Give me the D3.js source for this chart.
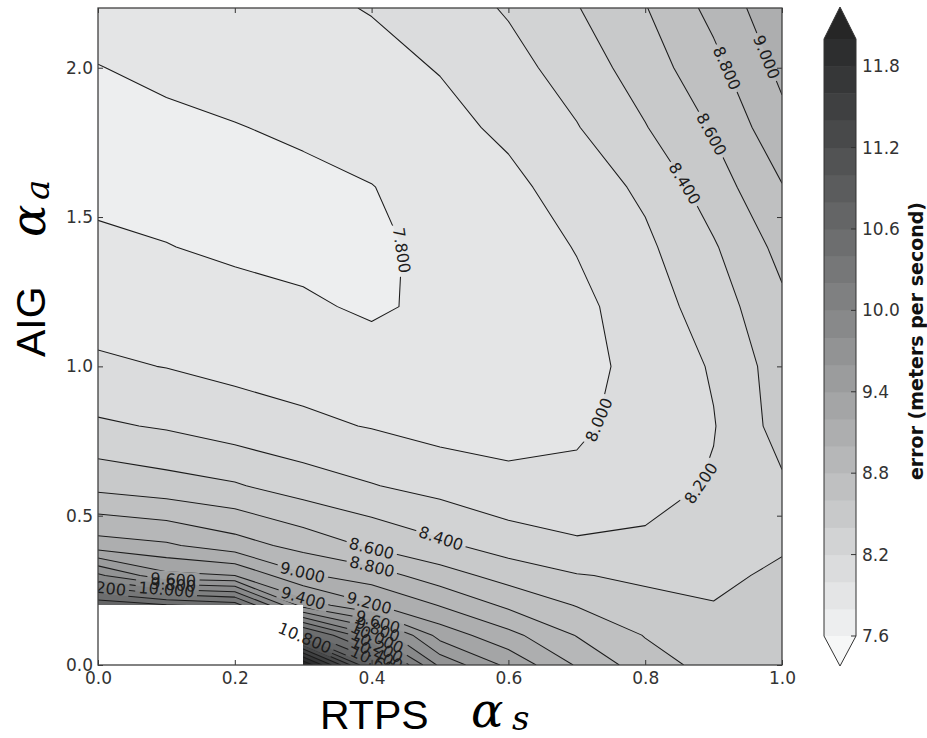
<!DOCTYPE html>
<html>
<head>
<meta charset="utf-8">
<script src="https://cdn.jsdelivr.net/npm/d3@7/dist/d3.min.js"></script>
<style>
  html,body{margin:0;padding:0;background:#fff;}
  svg{display:block;}
</style>
</head>
<body>
<svg id="chart" width="927" height="738"></svg>
<script>
// ---------------- data ----------------
const rtps = [0.0, 0.1, 0.2, 0.3, 0.4, 0.5, 0.6, 0.7, 0.8, 0.9, 1.0];
const aig  = [0.0, 0.1, 0.2, 0.3, 0.4, 0.6, 0.8, 1.0, 1.2, 1.4, 1.6, 1.8, 2.0, 2.2];
// error (m/s) for each RTPS value, listed along aig (bottom -> top); null = not available
const errRtps00 = [null, null, 10.76, 9.84, 9.09, 8.54, 8.23, 8.03, 7.92, 7.84, 7.75, 7.73, 7.795, 7.88];
const errRtps01 = [null, null, 10.62, 9.45, 9.03, 8.48, 8.18, 7.995, 7.88, 7.805, 7.74, 7.76, 7.84, 7.89];
const errRtps02 = [null, null, 10.5, 9.4, 8.89, 8.42, 8.1, 7.95, 7.86, 7.77, 7.72, 7.795, 7.85, 7.91];
const errRtps03 = [12.2, 10.7, 9.52, 9.03, 8.73, 8.3, 8.04, 7.92, 7.82, 7.76, 7.77, 7.82, 7.87, 7.96];
const errRtps04 = [10.75, 10.02, 9.22, 8.9, 8.57, 8.21, 7.99, 7.86, 7.78, 7.76, 7.795, 7.88, 7.94, 8.01];
const errRtps05 = [9.75, 9.32, 8.99, 8.69, 8.44, 8.13, 7.93, 7.86, 7.83, 7.85, 7.88, 7.94, 8.01, 8.1];
const errRtps06 = [9.35, 9.06, 8.76, 8.52, 8.31, 8.05, 7.93, 7.88, 7.87, 7.89, 7.95, 8.04, 8.13, 8.22];
const errRtps07 = [8.98, 8.79, 8.59, 8.41, 8.23, 8.045, 7.97, 7.94, 7.95, 8.01, 8.09, 8.19, 8.29, 8.39];
const errRtps08 = [8.69, 8.59, 8.45, 8.37, 8.24, 8.12, 8.07, 8.06, 8.1, 8.16, 8.24, 8.39, 8.5, 8.59];
const errRtps09 = [8.53, 8.45, 8.41, 8.34, 8.27, 8.22, 8.19, 8.22, 8.3, 8.38, 8.5, 8.62, 8.74, 8.86];
const errRtps10 = [8.58, 8.55, 8.5, 8.45, 8.37, 8.37, 8.48, 8.5, 8.56, 8.66, 8.79, 8.94, 9.05, 9.15];

const contourLevels = [7.6, 7.8, 8.0, 8.2, 8.4, 8.6, 8.8, 9.0, 9.2, 9.4, 9.6, 9.8, 10.0, 10.2, 10.4, 10.6, 10.8, 11.0, 11.2, 11.4, 11.6, 11.8, 12.0];
const xTicks = [0.0, 0.2, 0.4, 0.6, 0.8, 1.0];
const yTicks = [0.0, 0.5, 1.0, 1.5, 2.0];
const cbTicks = [7.6, 8.2, 8.8, 9.4, 10.0, 10.6, 11.2, 11.8];

// inline contour labels: level and approximate anchor (data space)
const labelLevels = [7.8, 8.0, 8.2, 8.4, 8.6, 8.8, 9.0, 8.4, 8.6, 8.8, 9.0, 9.4, 9.2, 9.6, 9.8, 10.0, 10.2, 9.6, 9.8, 10.0, 10.2, 10.4, 10.6, 10.8];
const labelRtps   = [0.43, 0.734, 0.88, 0.863, 0.899, 0.921, 0.982, 0.5, 0.4, 0.4, 0.3, 0.3, 0.395, 0.11, 0.11, 0.1, 0.0, 0.41, 0.41, 0.41, 0.41, 0.41, 0.41, 0.303];
const labelAig    = [1.39, 0.82, 0.61, 1.62, 1.78, 2.0, 2.04, 0.415, 0.39, 0.325, 0.318, 0.224, 0.195, 0.29, 0.27, 0.25, 0.257, 0.15, 0.125, 0.1, 0.073, 0.047, 0.02, 0.094];

// ---------------- setup ----------------
const svg = d3.select("#chart");
const W = 927, H = 738;
const x = d3.scaleLinear().domain([0, 1]).range([98, 782]);
const y = d3.scaleLinear().domain([0, 2.2]).range([665, 8]);
const columns = [errRtps00, errRtps01, errRtps02, errRtps03, errRtps04, errRtps05, errRtps06, errRtps07, errRtps08, errRtps09, errRtps10];
const nx = rtps.length, ny = aig.length;

const grid = new Array(nx * ny);
for (let j = 0; j < ny; j++) for (let i = 0; i < nx; i++) {
  const v = columns[i][j];
  grid[j * nx + i] = (v == null) ? 12.5 : v;   // hidden under blank region anyway
}
const ix = d3.scaleLinear().domain(d3.range(nx)).range(rtps);
const iy = d3.scaleLinear().domain(d3.range(ny)).range(aig);
const clampI = (c, n) => Math.max(0, Math.min(n - 1, c - 0.5));
const toPx = p => [x(ix(clampI(p[0], nx))), y(iy(clampI(p[1], ny)))];

const nBands = contourLevels.length - 1;
const bandGrey = k => Math.round(238 - k * (192 / (nBands - 1)));
const bandColor = k => { const g = bandGrey(k); return d3.rgb(g - 1, g, g + 1).toString(); };
const overColor = "#262626", underColor = "#f6f7f7";

const defs = svg.append("defs");
defs.append("clipPath").attr("id", "plotClip").append("rect")
  .attr("x", x(0)).attr("y", y(2.2)).attr("width", x(1) - x(0)).attr("height", y(0) - y(2.2));
const mask = defs.append("mask").attr("id", "gapMask").attr("maskUnits", "userSpaceOnUse")
  .attr("x", 0).attr("y", 0).attr("width", W).attr("height", H);
mask.append("rect").attr("x", 0).attr("y", 0).attr("width", W).attr("height", H).attr("fill", "#fff");

// ---------------- filled contours ----------------
const gen = d3.contours().size([nx, ny]).smooth(true);
const ringPath = ring => "M" + ring.map(p => toPx(p).map(v => v.toFixed(2)).join(",")).join("L") + "Z";
const mpPath = mp => mp.coordinates.map(poly => poly.map(ringPath).join("")).join("");

const gFill = svg.append("g").attr("clip-path", "url(#plotClip)");
gFill.append("rect").attr("x", x(0)).attr("y", y(2.2)).attr("width", x(1) - x(0)).attr("height", y(0) - y(2.2)).attr("fill", underColor);
gen.thresholds(contourLevels)(grid).forEach((c, k) => {
  gFill.append("path").attr("d", mpPath(c)).attr("fill-rule", "evenodd")
    .attr("fill", k < nBands ? bandColor(k) : overColor);
});

// ---------------- contour lines ----------------
const eps = 1e-9;
function sides(p) {
  return {L: p[0] <= 0.5 + eps, R: p[0] >= nx - 0.5 - eps, B: p[1] <= 0.5 + eps, T: p[1] >= ny - 0.5 - eps};
}
function isBoundarySeg(a, b) {
  const sa = sides(a), sb = sides(b);
  return (sa.L && sb.L) || (sa.R && sb.R) || (sa.B && sb.B) || (sa.T && sb.T);
}
function ringRuns(ring) {
  const pts = ring.slice();
  if (pts.length > 1 && pts[0][0] === pts[pts.length - 1][0] && pts[0][1] === pts[pts.length - 1][1]) pts.pop();
  const L = pts.length;
  let start = -1;
  for (let k = 0; k < L; k++) if (isBoundarySeg(pts[k], pts[(k + 1) % L])) { start = k; break; }
  if (start < 0) return [{closed: true, pts}];
  const runs = []; let cur = null;
  for (let s = 0; s < L; s++) {
    const k = (start + s) % L, a = pts[k], b = pts[(k + 1) % L];
    if (isBoundarySeg(a, b)) { if (cur && cur.length > 1) runs.push(cur); cur = null; }
    else { if (!cur) cur = [a]; cur.push(b); }
  }
  if (cur && cur.length > 1) runs.push(cur);
  return runs.map(r => ({closed: false, pts: r}));
}

const runsByLevel = new Map();
contourLevels.slice(1).forEach(lv => {
  const c = gen.contour(grid, lv);
  const runs = [];
  c.coordinates.forEach(poly => poly.forEach(ring => ringRuns(ring).forEach(r => runs.push({closed: r.closed, pts: r.pts.map(toPx)}))));
  runsByLevel.set(lv, runs);
});

const gLinesOuter = svg.append("g").attr("clip-path", "url(#plotClip)");
const gLines = gLinesOuter.append("g").attr("mask", "url(#gapMask)");
runsByLevel.forEach(runs => runs.forEach(r => {
  gLines.append("path")
    .attr("d", "M" + r.pts.map(p => p.map(v => v.toFixed(2)).join(",")).join("L") + (r.closed ? "Z" : ""))
    .attr("fill", "none").attr("stroke", "#1c1c1c").attr("stroke-width", 1.05).attr("stroke-linejoin", "round");
}));

// ---------------- blank (not run) region: one merged shape ----------------
let blankD = "";
for (let j = 0; j < ny - 1; j++) for (let i = 0; i < nx - 1; i++) {
  const miss = [columns[i][j], columns[i + 1][j], columns[i][j + 1], columns[i + 1][j + 1]].some(v => v == null);
  if (miss) {
    const x0 = x(rtps[i]), x1 = x(rtps[i + 1]), y0 = y(aig[j + 1]), y1 = y(aig[j]);
    blankD += `M${x0},${y0}H${x1}V${y1}H${x0}Z`;
  }
}
svg.append("path").attr("d", blankD).attr("fill", "#fff").attr("fill-rule", "nonzero").attr("shape-rendering", "crispEdges");

// ---------------- inline labels ----------------
const fs = 16;
const gLabels = svg.append("g").attr("clip-path", "url(#plotClip)");
function pointAt(pts, s) {
  let acc = 0;
  if (s <= 0) return pts[0];
  for (let k = 0; k < pts.length - 1; k++) {
    const a = pts[k], b = pts[k + 1], L = Math.hypot(b[0] - a[0], b[1] - a[1]);
    if (acc + L >= s) { const t = L > 0 ? (s - acc) / L : 0; return [a[0] + t * (b[0] - a[0]), a[1] + t * (b[1] - a[1])]; }
    acc += L;
  }
  return pts[pts.length - 1];
}
labelLevels.forEach((lv, k) => {
  const ax = x(labelRtps[k]), ay = y(labelAig[k]);
  let best = null;
  (runsByLevel.get(lv) || []).forEach(run => {
    const pts = run.closed ? run.pts.concat([run.pts[0]]) : run.pts;
    let acc = 0;
    for (let s = 0; s < pts.length - 1; s++) {
      const [x1, y1] = pts[s], [x2, y2] = pts[s + 1];
      const dx = x2 - x1, dy = y2 - y1, L2 = dx * dx + dy * dy, L = Math.sqrt(L2);
      let t = L2 > 0 ? ((ax - x1) * dx + (ay - y1) * dy) / L2 : 0;
      t = Math.max(0, Math.min(1, t));
      const px = x1 + t * dx, py = y1 + t * dy, d = Math.hypot(px - ax, py - ay);
      if (!best || d < best.d) best = {d, pts, s: acc + t * L, px, py};
      acc += L;
    }
  });
  if (!best) return;
  const txt = gLabels.append("text").text(d3.format(".3f")(lv))
    .attr("font-family", "'DejaVu Sans', sans-serif").attr("font-size", fs).attr("fill", "#1c1c1c")
    .attr("text-anchor", "middle").attr("dy", "0.36em");
  const w = txt.node().getComputedTextLength();
  const p1 = pointAt(best.pts, best.s - w / 2), p2 = pointAt(best.pts, best.s + w / 2);
  let ang = Math.atan2(p2[1] - p1[1], p2[0] - p1[0]) * 180 / Math.PI;
  if (ang > 90) ang -= 180;
  if (ang < -90) ang += 180;
  const tr = `translate(${best.px.toFixed(2)},${best.py.toFixed(2)}) rotate(${ang.toFixed(2)})`;
  txt.attr("transform", tr);
  mask.append("rect").attr("x", -w / 2 - 3).attr("y", -fs * 0.5).attr("width", w + 6).attr("height", fs)
    .attr("fill", "#000").attr("transform", tr);
});

// ---------------- axes ----------------
const tickFont = g => g.selectAll("text").attr("font-family", "'DejaVu Sans', sans-serif").attr("font-size", 17).attr("fill", "#333");
const tickLines = g => { g.select(".domain").remove(); g.selectAll("line").attr("stroke", "#333").attr("stroke-width", 1); };

svg.append("g").attr("transform", `translate(0,${y(0)})`)
  .call(d3.axisBottom(x).tickValues(xTicks).tickFormat(d3.format(".1f")).tickSize(-5).tickSizeOuter(0).tickPadding(7))
  .call(tickLines).call(tickFont);
svg.append("g").attr("transform", `translate(0,${y(2.2)})`)
  .call(d3.axisTop(x).tickValues(xTicks).tickFormat("").tickSize(-5).tickSizeOuter(0))
  .call(tickLines);
svg.append("g").attr("transform", `translate(${x(0)},0)`)
  .call(d3.axisLeft(y).tickValues(yTicks).tickFormat(d3.format(".1f")).tickSize(-5).tickSizeOuter(0).tickPadding(5))
  .call(tickLines).call(tickFont);
svg.append("g").attr("transform", `translate(${x(1)},0)`)
  .call(d3.axisRight(y).tickValues(yTicks).tickFormat("").tickSize(-5).tickSizeOuter(0))
  .call(tickLines);

svg.append("rect").attr("x", x(0)).attr("y", y(2.2)).attr("width", x(1) - x(0)).attr("height", y(0) - y(2.2))
  .attr("fill", "none").attr("stroke", "#404040").attr("stroke-width", 1.3);

// axis titles
const mathFont = "'DejaVu Serif', serif";
svg.append("text").attr("x", 320).attr("y", 729).text("RTPS")
  .attr("font-family", "'Liberation Sans', Arial, sans-serif").attr("font-size", 41).attr("fill", "#000");
svg.append("text").attr("x", 471).attr("y", 727).text("α")
  .attr("font-family", mathFont).attr("font-style", "italic").attr("font-size", 48).attr("fill", "#000");
svg.append("text").attr("x", 512).attr("y", 730).text("s")
  .attr("font-family", mathFont).attr("font-style", "italic").attr("font-size", 34).attr("fill", "#000");

const yt = svg.append("g").attr("transform", "translate(45,357) rotate(-90)");
yt.append("text").attr("x", 0).attr("y", 0).text("AIG")
  .attr("font-family", "'Liberation Sans', Arial, sans-serif").attr("font-size", 41).attr("fill", "#000");
yt.append("text").attr("x", 120).attr("y", 0).text("α")
  .attr("font-family", mathFont).attr("font-style", "italic").attr("font-size", 48).attr("fill", "#000");
yt.append("text").attr("x", 157).attr("y", 4).text("a")
  .attr("font-family", mathFont).attr("font-style", "italic").attr("font-size", 34).attr("fill", "#000");

// ---------------- colorbar ----------------
const cb = d3.scaleLinear().domain([7.6, 12.0]).range([636, 39]);
const cbx0 = 824, cbx1 = 856, cbMid = (cbx0 + cbx1) / 2;
const gcb = svg.append("g");
for (let k = 0; k < nBands; k++) {
  gcb.append("rect").attr("x", cbx0).attr("width", cbx1 - cbx0)
    .attr("y", cb(contourLevels[k + 1])).attr("height", cb(contourLevels[k]) - cb(contourLevels[k + 1]) + 0.5)
    .attr("fill", bandColor(k));
}
gcb.append("path").attr("d", `M${cbx0},${cb(12.0)}L${cbMid},7L${cbx1},${cb(12.0)}Z`).attr("fill", overColor);
gcb.append("path").attr("d", `M${cbx0},${cb(7.6)}L${cbMid},666L${cbx1},${cb(7.6)}Z`).attr("fill", underColor);
gcb.append("path")
  .attr("d", `M${cbx0},${cb(7.6)}L${cbx0},${cb(12.0)}L${cbMid},7L${cbx1},${cb(12.0)}L${cbx1},${cb(7.6)}L${cbMid},666Z`)
  .attr("fill", "none").attr("stroke", "#333").attr("stroke-width", 1);
cbTicks.forEach(t => {
  gcb.append("line").attr("x1", cbx1 - 5).attr("x2", cbx1).attr("y1", cb(t)).attr("y2", cb(t)).attr("stroke", "#333");
  gcb.append("text").attr("x", cbx1 + 6).attr("y", cb(t)).attr("dy", "0.36em").text(d3.format(".1f")(t))
    .attr("font-family", "'DejaVu Sans', sans-serif").attr("font-size", 17).attr("fill", "#333");
});
svg.append("text").attr("transform", "translate(923,341) rotate(-90)").attr("text-anchor", "middle")
  .text("error (meters per second)")
  .attr("font-family", "'DejaVu Sans', sans-serif").attr("font-weight", "bold").attr("font-size", 19).attr("fill", "#111");
</script>
</body>
</html>
